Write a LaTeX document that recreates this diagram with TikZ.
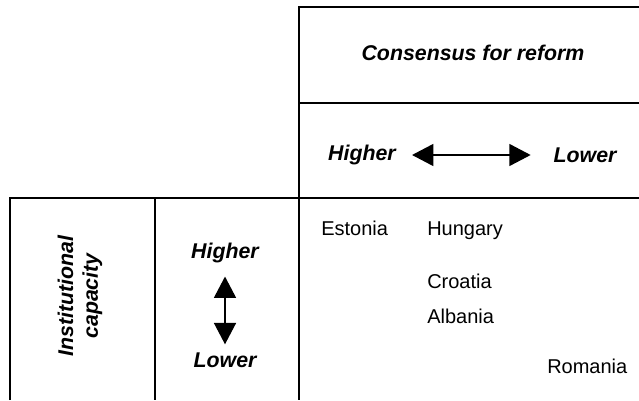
\documentclass[tikz,border=0pt]{standalone}
\usepackage{fontspec}
\setmainfont{Liberation Sans}
\usepackage{xcolor}
\usetikzlibrary{arrows.meta, positioning}
\tikzset{
  gridline/.style={line width=1.5pt, draw=black},
  headlabel/.style={font=\fontsize{16}{18.5}\selectfont\bfseries\itshape, inner sep=0pt, align=center},
  countrylabel/.style={font=\fontsize{15}{17}\selectfont, inner sep=0pt, anchor=base west},
  scalearrow/.style={{Triangle[length=16pt,width=16.5pt]}-{Triangle[length=16pt,width=16.5pt]}, line width=1.1pt, draw=black}
}

\begin{document}
\begin{tikzpicture}[x=0.75pt, y=-0.75pt]
  \useasboundingbox (0,0) rectangle (639,400);

  % table frame
  \draw[gridline] (639,7) -- (299,7) -- (299,400);
  \draw[gridline] (299,103) -- (639,103);
  \draw[gridline] (10,400) -- (10,198) -- (639,198);
  \draw[gridline] (155,198) -- (155,400);

  % column heading
  \node[headlabel] at (473,53) (consensus) {Consensus for reform};
  \node[headlabel] at (362,155) (colhigh) {Higher};
  \node[headlabel] at (585,155) (collow) {Lower};
  \draw[scalearrow, shorten <=12pt, shorten >=17pt]
    (colhigh.east) -- (collow.west);

  % row heading
  \node[headlabel, rotate=90] at (80,296) (capacity) {Institutional\\capacity};
  \node[headlabel] at (225,253) (rowhigh) {Higher};
  \node[headlabel] at (225,360) (rowlow) {Lower};
  \draw[scalearrow, shorten <=10pt, shorten >=6pt]
    (rowhigh.south) -- (rowlow.north);

  % countries
  \node[countrylabel] at (321,235) (estonia) {Estonia};
  \node[countrylabel] at (427,235) (hungary) {Hungary};
  \node[countrylabel] at (427,288) (croatia) {Croatia};
  \node[countrylabel] at (427,323) (albania) {Albania};
  \node[countrylabel] at (547,373) (romania) {Romania};
\end{tikzpicture}
\end{document}
